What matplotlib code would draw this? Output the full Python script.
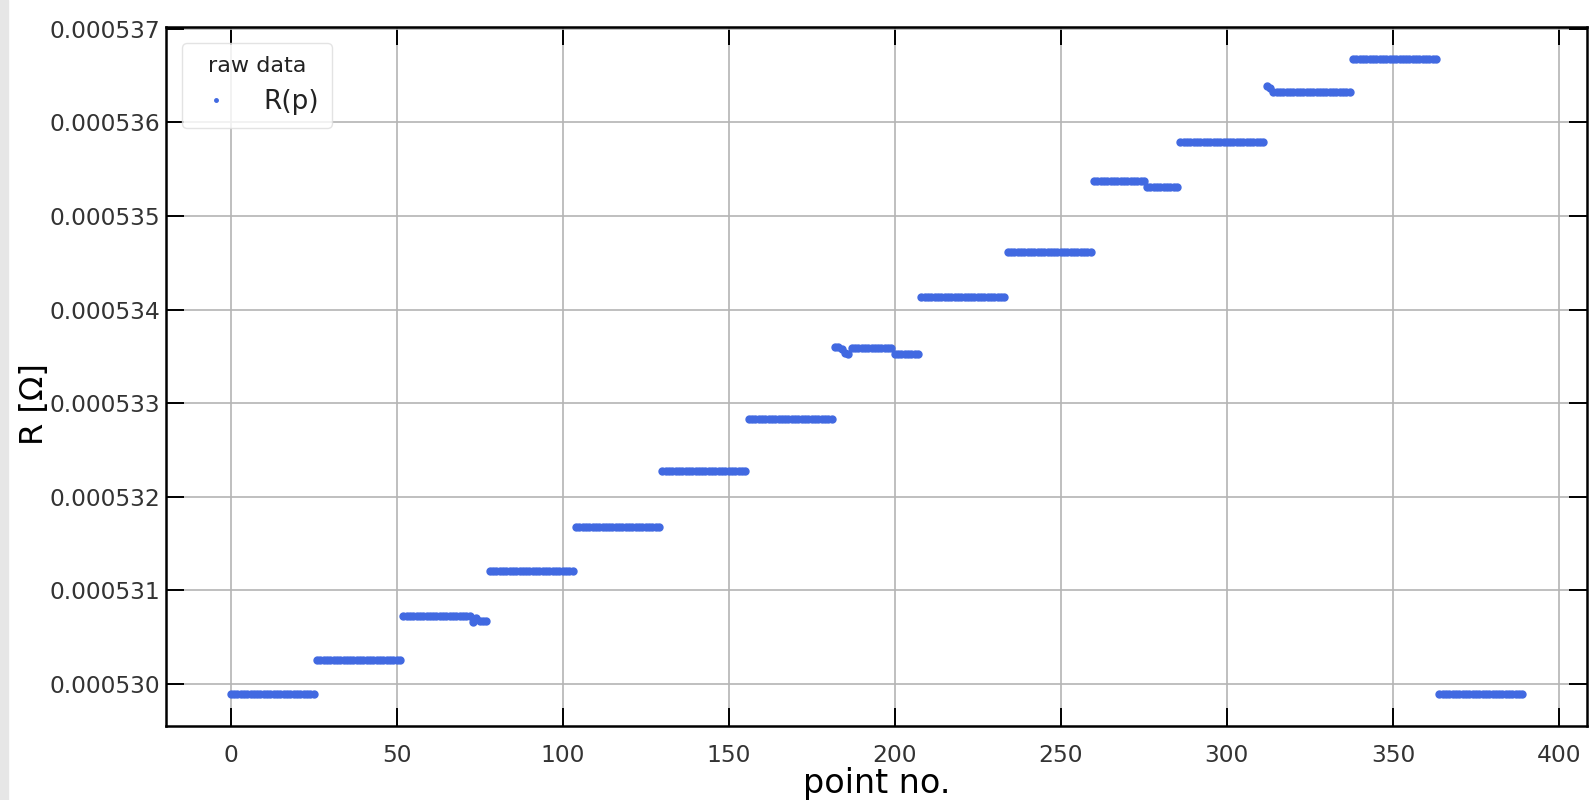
import numpy as np
import matplotlib
matplotlib.use("Agg")
import matplotlib.pyplot as plt
from matplotlib.ticker import FormatStrFormatter, MultipleLocator
from matplotlib.patches import Rectangle

# each plateau holds 26 consecutive points
points_per_step = 26
step_levels = [529.89, 530.26, 530.73, 531.21, 531.68, 532.28, 532.83, 533.59,
               534.13, 534.61, 535.37, 535.79, 536.32, 536.68, 529.89]  # micro-ohm
# points that sit off their plateau level (index, micro-ohm)
glitches = [(73, 530.66), (74, 530.70), (75, 530.67), (76, 530.67), (77, 530.67),
            (182, 533.60), (183, 533.60), (184, 533.58), (185, 533.54), (186, 533.53),
            (200, 533.53), (201, 533.53), (202, 533.53), (203, 533.53), (204, 533.53),
            (205, 533.53), (206, 533.53), (207, 533.53),
            (276, 535.31), (277, 535.31), (278, 535.31), (279, 535.31), (280, 535.31),
            (281, 535.31), (282, 535.31), (283, 535.31), (284, 535.31), (285, 535.31),
            (312, 536.39), (313, 536.37)]

point_no = np.arange(len(step_levels) * points_per_step)
r_vals = np.repeat(step_levels, points_per_step)
for idx, val in glitches:
    r_vals[idx] = val
r_vals = r_vals * 1e-6

plt.rcParams["text.color"] = "#222222"
plt.rcParams["xtick.labelcolor"] = "#333333"
plt.rcParams["ytick.labelcolor"] = "#333333"

fig = plt.figure(figsize=(15.9, 8), dpi=100)
fig.patches.append(Rectangle((0, 0), 8 / 1590, 1, transform=fig.transFigure,
                             color="#e6e6e6", zorder=0))
ax = fig.add_axes([166 / 1590, 74 / 800, 1421 / 1590, 699 / 800])

ax.plot(point_no, r_vals, ".", color="royalblue", markersize=10, label="R(p)")

ax.yaxis.set_major_locator(MultipleLocator(1e-6))
ax.yaxis.set_major_formatter(FormatStrFormatter("%.6f"))
ax.xaxis.set_major_locator(MultipleLocator(50))

ax.grid(True, color="#b4b4b4", linewidth=1.2)
ax.set_axisbelow(True)
ax.tick_params(direction="in", top=True, right=True, length=13, width=1.4,
               labelsize=16.8)
ax.tick_params(axis="x", pad=13)
ax.tick_params(axis="y", pad=4)
for sp in ax.spines.values():
    sp.set_linewidth(1.8)

ax.set_xlabel("point no.", fontsize=24, labelpad=0)
ax.set_ylabel("R [Ω]", fontsize=23)
ax.yaxis.set_label_coords(-0.0815, 0.46)

leg = ax.legend(title="raw data", loc="upper left", fontsize=19, title_fontsize=16,
                markerscale=0.5, borderaxespad=0.6, borderpad=0.5, handletextpad=1.0,
                handlelength=1.6)
leg.get_frame().set_edgecolor("#dddddd")

fig.savefig("out.png", dpi=100)
